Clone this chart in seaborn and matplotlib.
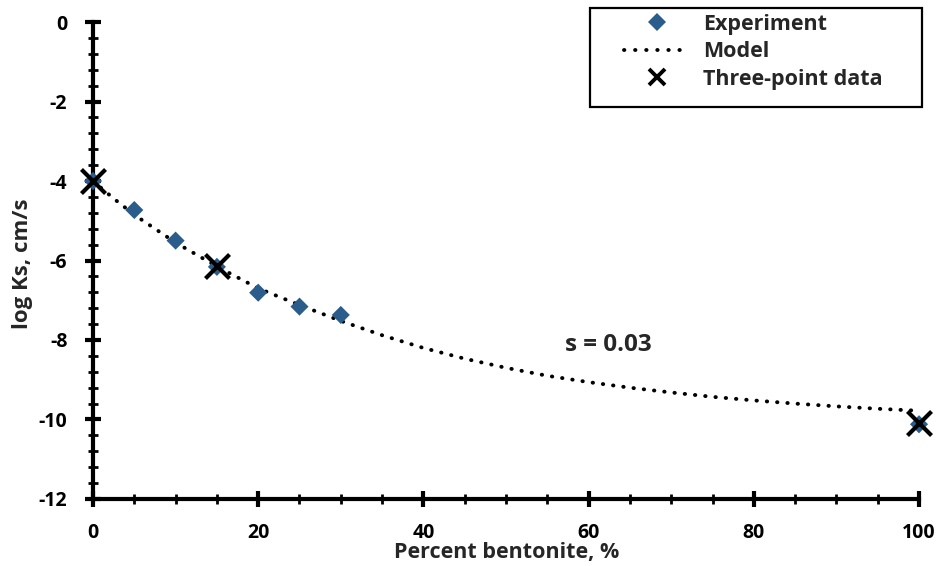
import matplotlib
matplotlib.use("Agg")
import matplotlib.pyplot as plt
from matplotlib.ticker import MultipleLocator
from matplotlib.lines import Line2D
from matplotlib.patches import Rectangle
import seaborn as sns
import pandas as pd

# Measured hydraulic conductivity vs bentonite content
exp_pct = [0, 5, 10, 15, 20, 25, 30, 100]
exp_logk = [-4.00, -4.73, -5.50, -6.16, -6.81, -7.16, -7.37, -10.12]

# Model curve
model_pct = [0, 2.5, 5, 10, 15, 20, 25, 30, 35, 40, 45, 50, 55, 60, 65, 70, 75, 80, 85, 90, 95, 100]
model_logk = [-4.00, -4.44, -4.85, -5.55, -6.15, -6.70, -7.12, -7.52, -7.88, -8.20, -8.47,
              -8.70, -8.90, -9.06, -9.20, -9.32, -9.43, -9.52, -9.60, -9.67, -9.73, -9.78]

# Three points used to fit the model
tp_pct = [0, 15, 100]
tp_logk = [-4.00, -6.14, -10.08]

annotation = "s = 0.03"

sns.set_theme(style="white")
plt.rcParams["font.family"] = ["Open Sans", "DejaVu Sans"]
plt.rcParams["font.weight"] = "bold"
plt.rcParams["axes.unicode_minus"] = False

BLUE = "#2A5D8C"
W, H = 945, 566

fig = plt.figure(figsize=(W / 100, H / 100), dpi=100)
ax = fig.add_axes([0.0984, 0.1184, 0.8741, 0.8427])

df_model = pd.DataFrame({"pct": model_pct, "logk": model_logk})
df_exp = pd.DataFrame({"pct": exp_pct, "logk": exp_logk})
df_tp = pd.DataFrame({"pct": tp_pct, "logk": tp_logk})

dots = (0, (0.1, 2.55))
sns.lineplot(data=df_model, x="pct", y="logk", ax=ax, color="black",
             linestyle=dots, linewidth=2.8, dash_capstyle="round",
             zorder=2, sort=False, legend=False)
sns.scatterplot(data=df_exp, x="pct", y="logk", ax=ax, marker="D", s=85,
                color=BLUE, edgecolor="none", zorder=3, clip_on=False,
                legend=False)
sns.scatterplot(data=df_tp, x="pct", y="logk", ax=ax, marker="x", s=300,
                color="black", linewidth=3, zorder=4, clip_on=False,
                legend=False)

ax.text(62.4, -8.13, annotation, fontsize=17.5, fontweight="bold",
        ha="center", va="center")

ax.set_xlim(0, 100)
ax.set_ylim(-12, 0)
ax.xaxis.set_major_locator(MultipleLocator(20))
ax.xaxis.set_minor_locator(MultipleLocator(5))
ax.yaxis.set_major_locator(MultipleLocator(2))
ax.yaxis.set_minor_locator(MultipleLocator(0.4))

for side in ("top", "right"):
    ax.spines[side].set_visible(False)
for side in ("left", "bottom"):
    ax.spines[side].set_linewidth(3)
    ax.spines[side].set_color("black")

ax.tick_params(which="major", direction="inout", length=11, width=3,
               labelsize=14, colors="black")
ax.tick_params(which="minor", direction="inout", length=7, width=2,
               colors="black")
ax.tick_params(axis="x", which="both", bottom=True, pad=12)
ax.tick_params(axis="y", which="both", left=True, pad=13)
for lbl in ax.get_xticklabels() + ax.get_yticklabels():
    lbl.set_fontweight("bold")

ax.set_xlabel("Percent bentonite, %", fontsize=15.5, fontweight="bold")
ax.set_ylabel("log Ks, cm/s", fontsize=16, fontweight="bold")
ax.xaxis.set_label_coords((507 - 93) / 826, (499 - 553) / 477)
ax.xaxis.label.set_va("center")
ax.yaxis.set_label_coords((23 - 93) / 826, (499 - 264) / 477)
ax.yaxis.label.set_va("center")

# Legend entries, with an outer frame drawn separately
handles = [
    Line2D([], [], marker="D", color=BLUE, linestyle="none", markersize=9.2,
           markeredgewidth=0),
    Line2D([], [], color="black", linestyle=(0, (0.1, 2.75)), linewidth=2.8,
           dash_capstyle="round"),
    Line2D([], [], marker="x", color="black", linestyle="none", markersize=12,
           markeredgewidth=2.8),
]
labels = ["Experiment", "Model", "Three-point data"]
leg = ax.legend(handles, labels, loc="upper left",
                bbox_to_anchor=(624 / W, 1 - 14 / H),
                bbox_transform=fig.transFigure, frameon=False,
                fontsize=15.5, handlelength=3.05, borderpad=0,
                labelspacing=0.3, handletextpad=0.62, borderaxespad=0)
for t in leg.get_texts():
    t.set_fontweight("bold")

fig.patches.append(Rectangle((590 / W, 1 - 107 / H), (922 - 590) / W, (107 - 8) / H,
                             transform=fig.transFigure, fill=False,
                             edgecolor="black", linewidth=1.6, zorder=5))

fig.savefig("out.png", dpi=100)
